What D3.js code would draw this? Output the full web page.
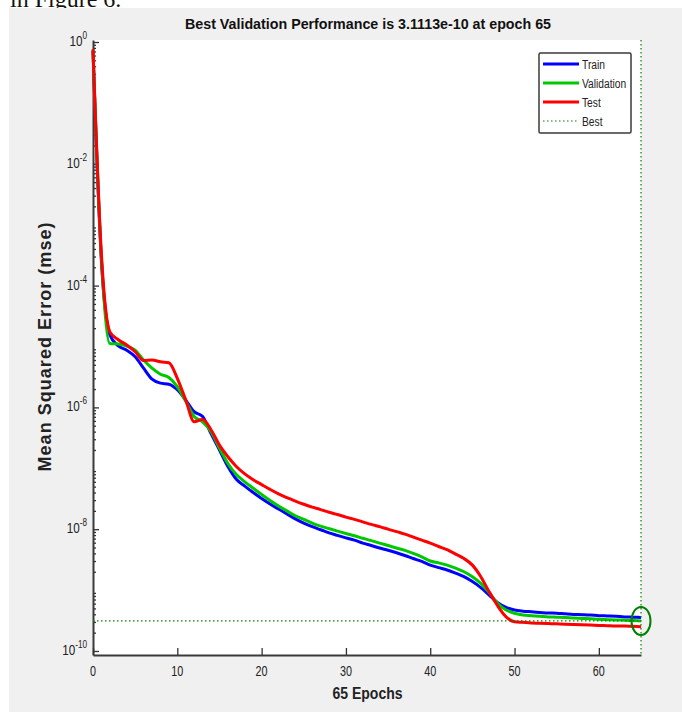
<!DOCTYPE html>
<html>
<head>
<meta charset="utf-8">
<script src="https://cdn.jsdelivr.net/npm/d3@7"></script>
<style>
  body { margin: 0; background: #fff; }
  svg { display: block; font-family: "Liberation Sans", Arial, sans-serif; }
</style>
</head>
<body>
<div id="chart-area"></div>
<script>
// mse per epoch, epochs 0..65
const train = [7.1e-1, 2.5e-4, 1.55e-5, 1.02e-5, 8.7e-6, 6.8e-6, 4.4e-6, 2.9e-6, 2.5e-6, 2.4e-6,
  1.95e-6, 1.32e-6, 8.5e-7, 7.1e-7, 3.7e-7, 2.0e-7, 1.07e-7, 6.6e-8, 5.1e-8, 4.0e-8,
  3.2e-8, 2.6e-8, 2.14e-8, 1.78e-8, 1.48e-8, 1.26e-8, 1.10e-8, 9.8e-9, 8.7e-9, 7.9e-9,
  7.2e-9, 6.6e-9, 5.9e-9, 5.4e-9, 4.9e-9, 4.5e-9, 4.1e-9, 3.7e-9, 3.3e-9, 2.95e-9,
  2.57e-9, 2.34e-9, 2.14e-9, 1.9e-9, 1.66e-9, 1.38e-9, 1.10e-9, 8.3e-10, 6.2e-10, 5.2e-10,
  4.7e-10, 4.5e-10, 4.4e-10, 4.3e-10, 4.2e-10, 4.17e-10, 4.07e-10, 3.98e-10, 3.94e-10, 3.89e-10,
  3.80e-10, 3.76e-10, 3.72e-10, 3.63e-10, 3.59e-10, 3.55e-10]

const validation = [7.2e-1, 2.8e-4, 1.12e-5, 1.10e-5, 1.02e-5, 8.7e-6, 6.0e-6, 4.4e-6, 3.5e-6, 3.1e-6,
  2.19e-6, 1.26e-6, 7.1e-7, 5.8e-7, 4.0e-7, 2.14e-7, 1.2e-7, 7.9e-8, 6.0e-8, 4.7e-8,
  3.7e-8, 2.95e-8, 2.4e-8, 2.0e-8, 1.66e-8, 1.45e-8, 1.26e-8, 1.12e-8, 1.02e-8, 9.3e-9,
  8.5e-9, 7.8e-9, 7.1e-9, 6.5e-9, 5.9e-9, 5.4e-9, 4.9e-9, 4.5e-9, 4.0e-9, 3.5e-9,
  3.0e-9, 2.8e-9, 2.57e-9, 2.3e-9, 2.0e-9, 1.66e-9, 1.29e-9, 9.1e-10, 6.0e-10, 4.7e-10,
  4.17e-10, 3.89e-10, 3.80e-10, 3.72e-10, 3.63e-10, 3.59e-10, 3.55e-10, 3.47e-10, 3.43e-10, 3.39e-10,
  3.31e-10, 3.27e-10, 3.24e-10, 3.20e-10, 3.16e-10, 3.1113e-10]

const test = [7.6e-1, 3.2e-4, 1.74e-5, 1.29e-5, 1.06e-5, 8.2e-6, 5.9e-6, 6.0e-6, 5.6e-6, 5.4e-6,
  3.0e-6, 1.32e-6, 5.8e-7, 6.3e-7, 4.3e-7, 2.4e-7, 1.55e-7, 1.07e-7, 8.1e-8, 6.5e-8,
  5.4e-8, 4.5e-8, 3.8e-8, 3.3e-8, 2.9e-8, 2.57e-8, 2.3e-8, 2.1e-8, 1.9e-8, 1.74e-8,
  1.58e-8, 1.45e-8, 1.32e-8, 1.2e-8, 1.10e-8, 1.0e-8, 9.1e-9, 8.3e-9, 7.4e-9, 6.6e-9,
  5.9e-9, 5.2e-9, 4.6e-9, 3.9e-9, 3.3e-9, 2.57e-9, 1.66e-9, 9.3e-10, 5.5e-10, 3.63e-10,
  3.02e-10, 2.95e-10, 2.88e-10, 2.85e-10, 2.82e-10, 2.79e-10, 2.75e-10, 2.72e-10, 2.69e-10, 2.66e-10,
  2.63e-10, 2.60e-10, 2.57e-10, 2.57e-10, 2.54e-10, 2.51e-10]

const bestEpoch = 65
const bestValue = 3.1113e-10

const xTicks = [0, 10, 20, 30, 40, 50, 60]
const yExponents = [-10, -8, -6, -4, -2, 0]

const seriesNames = ["Train", "Validation", "Test"]
const seriesColors = ["#0000ff", "#00c800", "#ff0000"]
const bestColor = "#008000"

const W = 682, H = 715
const plot = {left: 93, right: 641, top: 40, bottom: 655}

const svg = d3.select("#chart-area").append("svg")
    .attr("width", W)
    .attr("height", H)

// caption line of the page, cut off above the figure
svg.append("text")
    .attr("x", 10)
    .attr("y", 7)
    .attr("font-family", "'Liberation Serif', 'Times New Roman', serif")
    .attr("font-size", 24)
    .attr("fill", "#111")
    .text("in Figure 6.")

// figure background
svg.append("rect")
    .attr("x", 9).attr("y", 8)
    .attr("width", W - 9).attr("height", 704)
    .attr("fill", "#f0f0f0")

svg.append("rect")
    .attr("x", plot.left).attr("y", plot.top)
    .attr("width", plot.right - plot.left).attr("height", plot.bottom - plot.top)
    .attr("fill", "#fff")

const x = d3.scaleLinear()
    .domain([0, 65])
    .range([plot.left, plot.right])

const y = d3.scaleLog()
    .domain([Math.pow(10, -10.066), Math.pow(10, 0.033)])
    .range([plot.bottom, plot.top])

// squeezed text, the figure was shrunk horizontally
function label(parent, px, py, str, size, anchor, sx) {
    return parent.append("g")
        .attr("transform", `translate(${px},${py}) scale(${sx},1)`)
        .append("text")
        .attr("text-anchor", anchor)
        .attr("font-size", size)
        .attr("fill", "#222")
        .text(str)
}

// Y axis: major + minor ticks pointing in
const minorTicks = []
for (let e = -10; e < 0; e++) {
    for (let m = 2; m <= 9; m++) minorTicks.push(m * Math.pow(10, e))
}

svg.append("g")
    .attr("transform", `translate(${plot.left},0)`)
    .call(d3.axisLeft(y).tickValues(minorTicks).tickSize(-3).tickSizeOuter(0).tickFormat(""))
    .call(g => g.select(".domain").remove())

svg.append("g")
    .attr("class", "y-axis")
    .attr("transform", `translate(${plot.left},0)`)
    .call(d3.axisLeft(y).tickValues(yExponents.map(e => Math.pow(10, e))).tickSize(-6).tickSizeOuter(0).tickFormat(""))

// X axis
svg.append("g")
    .attr("class", "x-axis")
    .attr("transform", `translate(0,${plot.bottom})`)
    .call(d3.axisBottom(x).tickValues(xTicks).tickSize(-7).tickSizeOuter(0).tickFormat(""))

svg.selectAll(".tick line").attr("stroke", "#333").attr("stroke-width", 1.3)
svg.selectAll(".domain").attr("stroke", "#3a3a3a").attr("stroke-width", 2)

// y tick labels 10^n
yExponents.forEach(e => {
    const t = label(svg, 87, y(Math.pow(10, e)) + 4, "", 15, "end", 0.78)
    t.append("tspan").text("10")
    t.append("tspan").attr("dy", -7).attr("font-size", 10.5).text(e)
})

// x tick labels
xTicks.forEach(v => label(svg, x(v), 676, v, 15, "middle", 0.72))

// title and axis titles
svg.append("text")
    .attr("x", 368)
    .attr("y", 29)
    .attr("text-anchor", "middle")
    .attr("font-size", 15)
    .attr("font-weight", "bold")
    .attr("fill", "#111")
    .attr("textLength", 366)
    .attr("lengthAdjust", "spacingAndGlyphs")
    .text("Best Validation Performance is 3.1113e-10 at epoch 65")

label(svg, 367.5, 699, "65 Epochs", 16.5, "middle", 0.85)
    .attr("font-weight", "bold")

svg.append("text")
    .attr("transform", "translate(51,347) rotate(-90)")
    .attr("text-anchor", "middle")
    .attr("font-size", 18)
    .attr("font-weight", "bold")
    .attr("fill", "#222")
    .attr("textLength", 249)
    .attr("lengthAdjust", "spacing")
    .text("Mean Squared Error  (mse)")

// lines
const line = d3.line()
    .x((d, i) => x(i))
    .y(d => y(d))
    .curve(d3.curveMonotoneX)

const series = [train, validation, test]
series.forEach((s, k) => {
    svg.append("path")
        .datum(s)
        .attr("fill", "none")
        .attr("stroke", seriesColors[k])
        .attr("stroke-width", 3)
        .attr("stroke-linejoin", "round")
        .attr("d", line)
})

// best markers
svg.append("line")
    .attr("x1", x(0)).attr("x2", x(65))
    .attr("y1", y(bestValue)).attr("y2", y(bestValue))
    .attr("stroke", bestColor)
    .attr("stroke-width", 1.2)
    .attr("stroke-dasharray", "1.5,2.5")

svg.append("line")
    .attr("x1", x(bestEpoch)).attr("x2", x(bestEpoch))
    .attr("y1", plot.top).attr("y2", plot.bottom)
    .attr("stroke", bestColor)
    .attr("stroke-width", 1.2)
    .attr("stroke-dasharray", "1.5,2.5")

svg.append("ellipse")
    .attr("cx", x(bestEpoch))
    .attr("cy", y(bestValue))
    .attr("rx", 9.5)
    .attr("ry", 14)
    .attr("fill", "none")
    .attr("stroke", bestColor)
    .attr("stroke-width", 2)

// legend
const legend = svg.append("g").attr("transform", "translate(539,53)")
legend.append("rect")
    .attr("width", 92).attr("height", 80)
    .attr("rx", 1.5)
    .attr("fill", "#fff")
    .attr("stroke", "#3a3a3a")
    .attr("stroke-width", 1.5)

const legendItems = seriesNames.concat(["Best"])
legendItems.forEach((name, i) => {
    const ly = 11 + i * 19
    legend.append("line")
        .attr("x1", 4).attr("x2", 40)
        .attr("y1", ly).attr("y2", ly)
        .attr("stroke", i < 3 ? seriesColors[i] : bestColor)
        .attr("stroke-width", i < 3 ? 3 : 1.2)
        .attr("stroke-dasharray", i < 3 ? null : "1.5,2.5")
    label(legend, 43, ly + 4.5, name, 12.5, "start", 0.82)
})
</script>
</body>
</html>
